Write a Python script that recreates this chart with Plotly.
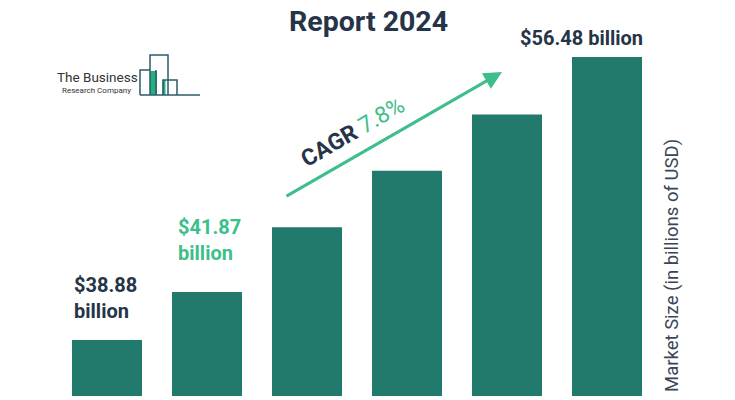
import plotly.graph_objects as go

years = ["2023", "2024", "2025", "2026", "2027", "2028"]
values = [38.88, 41.87, 45.9, 49.4, 52.9, 56.48]
label_texts = ["$38.88<br>billion", "$41.87<br>billion", "", "", "", "$56.48 billion"]
cagr_text = "7.8%"

BAR = "#217A6B"
NAVY = "#253447"
GREEN = "#3DBE8B"
LOGO = "#2E5B69"

OFF = 8  # page body margin
W, H = 727, 392
L, R, T, B = 49, 78, 49, 4
PW, PH = W - L - R, H - T - B

def px(x):
    return (x - OFF - L) / PW

def py(y):
    return (H - B - (y - OFF)) / PH

fig = go.Figure()
fig.add_trace(go.Bar(
    x=list(range(len(years))), y=values, marker_color=BAR,
    marker_line_width=0, width=0.7, hoverinfo="skip",
))

ann = []
# bar labels
ann.append(dict(x=px(72), y=py(325), xref="paper", yref="paper", text="<b>" + label_texts[0] + "</b>",
                showarrow=False, xanchor="left", yanchor="bottom", align="left",
                font=dict(family="Roboto", size=20, color=NAVY)))
ann.append(dict(x=px(176), y=py(267), xref="paper", yref="paper", text="<b>" + label_texts[1] + "</b>",
                showarrow=False, xanchor="left", yanchor="bottom", align="left",
                font=dict(family="Roboto", size=20, color=GREEN)))
ann.append(dict(x=px(581), y=py(38), xref="paper", yref="paper", text="<b>" + label_texts[5] + "</b>",
                showarrow=False, xanchor="center", yanchor="middle",
                font=dict(family="Roboto", size=20, color=NAVY)))
# title
ann.append(dict(x=px(368), y=py(22), xref="paper", yref="paper", text="<b>Report 2024</b>",
                showarrow=False, xanchor="center", yanchor="middle", borderpad=0,
                font=dict(family="Roboto", size=28.5, color=NAVY)))
# arrow
ann.append(dict(x=px(502), y=py(72), xref="paper", yref="paper", ax=-217, ay=125,
                text="", showarrow=True, arrowhead=2,
                arrowsize=1.2, arrowwidth=3, arrowcolor=GREEN))
# CAGR
ann.append(dict(x=px(352), y=py(132), xref="paper", yref="paper",
                text="<b>CAGR</b> <span style='color:%s'>%s</span>" % (GREEN, cagr_text),
                showarrow=False, textangle=-30, xanchor="center", yanchor="middle",
                font=dict(family="Roboto", size=23, color=NAVY)))
# y axis title
ann.append(dict(x=px(672), y=py(266), xref="paper", yref="paper",
                text="Market Size (in billions of USD)", showarrow=False, textangle=-90,
                xanchor="center", yanchor="middle",
                font=dict(family="Roboto", size=18.5, color="#3A4656")))
# logo text
ann.append(dict(x=px(55), y=py(77), xref="paper", yref="paper", text="The Business",
                showarrow=False, xanchor="left", yanchor="middle",
                font=dict(family="Roboto", size=13.5, color="#333333")))
ann.append(dict(x=px(60), y=py(90), xref="paper", yref="paper", text="Research Company",
                showarrow=False, xanchor="left", yanchor="middle",
                font=dict(family="Roboto", size=8, color="#333333")))

shapes = []
def rect(x0, y0, x1, y1, **kw):
    shapes.append(dict(type="rect", xref="paper", yref="paper",
                       x0=px(x0), x1=px(x1), y0=py(y1), y1=py(y0), **kw))

def line(pts):
    path = "M " + " L ".join("%f,%f" % (px(a), py(b)) for a, b in pts)
    shapes.append(dict(type="path", xref="paper", yref="paper", path=path,
                       line=dict(color=LOGO, width=1.5)))

rect(150, 71, 157, 95, fillcolor="#23B07F", line=dict(width=0))
rect(162.5, 80, 165.5, 95, fillcolor="#23B07F", line=dict(width=0))
line([(140, 95), (140, 70), (150, 70)])
line([(150, 95), (150, 55), (168, 55), (168, 95)])
line([(156, 70), (156, 95)])
line([(163, 95), (163, 80), (177, 80), (177, 95)])
line([(140, 95), (200, 95)])

fig.update_layout(
    width=W, height=H, margin=dict(l=L, r=R, t=T, b=B),
    paper_bgcolor="white", plot_bgcolor="white", showlegend=False,
    xaxis=dict(range=[-0.5, 5.5], visible=False, fixedrange=True),
    yaxis=dict(range=[35.40, 56.48], visible=False, fixedrange=True),
    annotations=ann, shapes=shapes,
)
fig.write_html("out.html")
